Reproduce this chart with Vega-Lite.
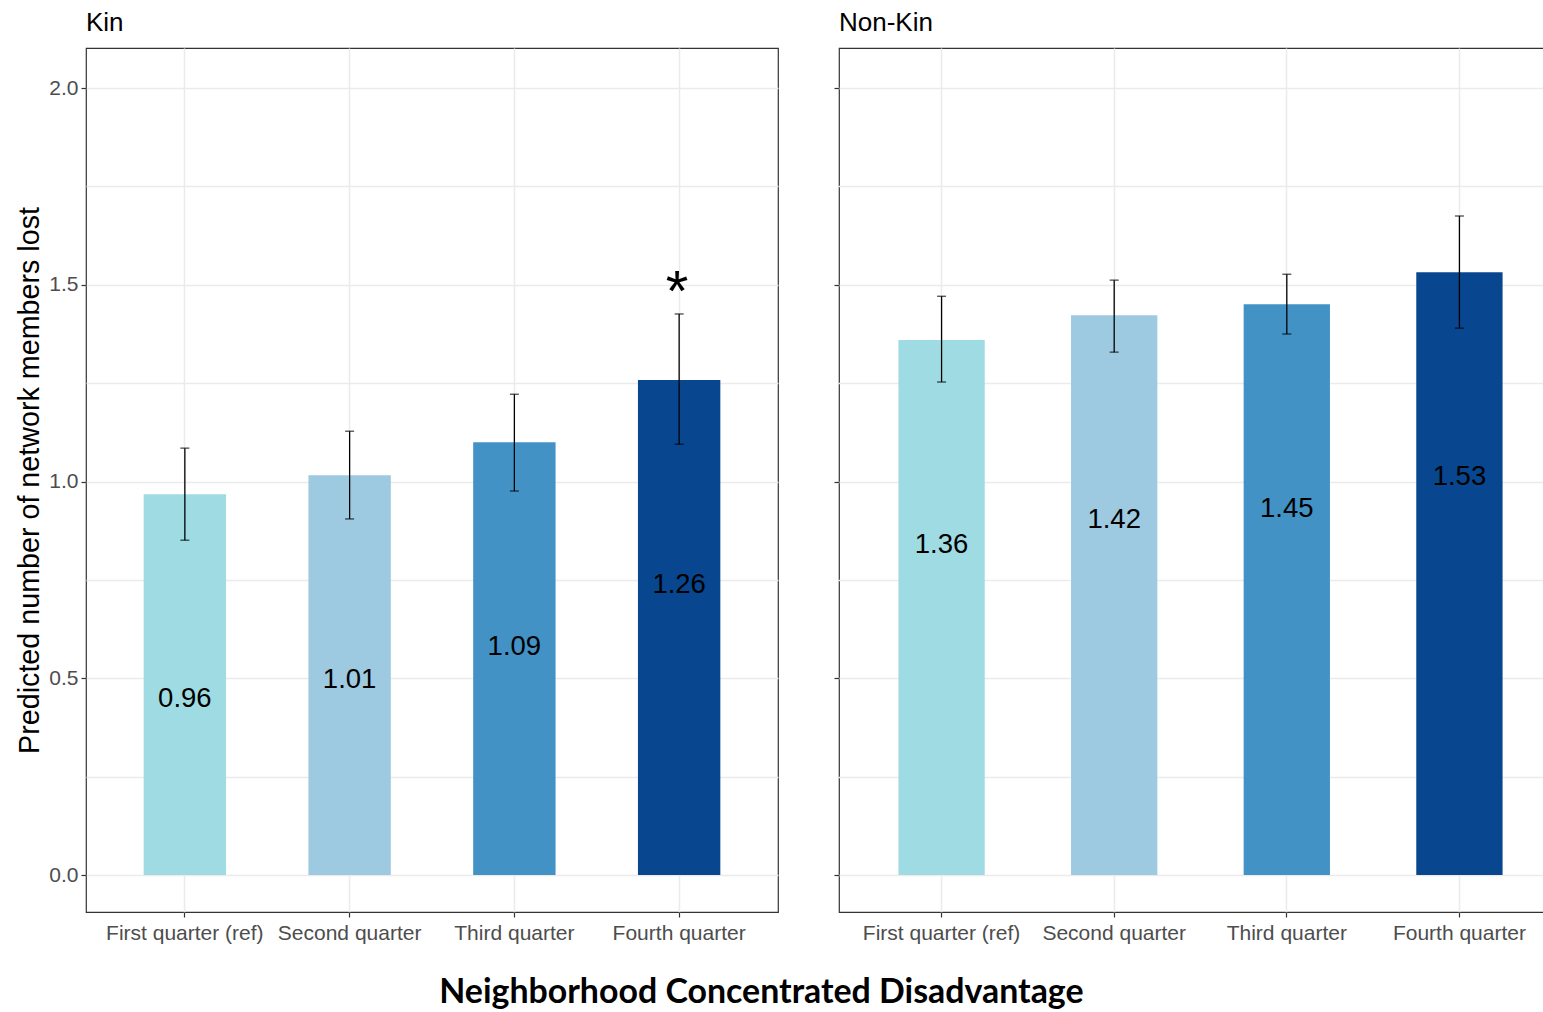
{
  "$schema": "https://vega.github.io/schema/vega-lite/v6.json",
  "background": "white",
  "padding": {"left": 15, "top": 9, "right": 0, "bottom": 5},
  "spacing": 53,
  "data": {
    "values": [
      {"group": "Kin", "quarter": "First quarter (ref)", "value": 0.968, "lower": 0.851, "upper": 1.085, "label": "0.96", "sig": ""},
      {"group": "Kin", "quarter": "Second quarter", "value": 1.016, "lower": 0.905, "upper": 1.128, "label": "1.01", "sig": ""},
      {"group": "Kin", "quarter": "Third quarter", "value": 1.100, "lower": 0.976, "upper": 1.222, "label": "1.09", "sig": ""},
      {"group": "Kin", "quarter": "Fourth quarter", "value": 1.258, "lower": 1.095, "upper": 1.426, "label": "1.26", "sig": "*"},
      {"group": "Non-Kin", "quarter": "First quarter (ref)", "value": 1.360, "lower": 1.253, "upper": 1.471, "label": "1.36", "sig": ""},
      {"group": "Non-Kin", "quarter": "Second quarter", "value": 1.423, "lower": 1.329, "upper": 1.512, "label": "1.42", "sig": ""},
      {"group": "Non-Kin", "quarter": "Third quarter", "value": 1.451, "lower": 1.375, "upper": 1.527, "label": "1.45", "sig": ""},
      {"group": "Non-Kin", "quarter": "Fourth quarter", "value": 1.532, "lower": 1.390, "upper": 1.675, "label": "1.53", "sig": ""}
    ]
  },
  "config": {
    "font": "Liberation Sans",
    "view": {"stroke": "#333333", "strokeWidth": 1.2},
    "axis": {
      "domain": false,
      "labelColor": "#4d4d4d",
      "labelFont": "Liberation Sans",
      "labelFontSize": 21,
      "tickColor": "#333333",
      "tickSize": 5,
      "tickWidth": 1.2,
      "gridColor": "#ebebeb",
      "gridWidth": 1.5,
      "titleFont": "Liberation Sans",
      "titleFontWeight": "normal",
      "titleColor": "black"
    },
    "title": {"font": "Liberation Sans", "fontWeight": "normal", "color": "black"}
  },
  "title": {
    "text": "Neighborhood Concentrated Disadvantage",
    "orient": "bottom",
    "anchor": "start",
    "font": "Lato",
    "fontWeight": "bold",
    "fontSize": 33.9,
    "color": "black",
    "offset": 32,
    "dx": 424
  },
  "hconcat": [
    {
      "width": 692,
      "height": 864,
      "title": {"text": "Kin", "anchor": "start", "frame": "group", "fontSize": 26, "offset": 12},
      "transform": [{"filter": "datum.group === 'Kin'"}],
      "encoding": {
        "x": {
          "field": "quarter",
          "type": "nominal",
          "sort": ["First quarter (ref)", "Second quarter", "Third quarter", "Fourth quarter"],
          "scale": {"paddingInner": 0.5, "paddingOuter": 0.35},
          "axis": {"title": null, "labelAngle": 0, "grid": true, "bandPosition": 0.5, "labelPadding": 5}
        }
      },
      "layer": [
        {
          "mark": {"type": "bar"},
          "encoding": {
            "y": {
              "field": "value",
              "type": "quantitative",
              "scale": {"domain": [-0.094, 2.102], "nice": false, "zero": false},
              "axis": {
                "title": "Predicted number of network members lost",
                "titleFontSize": 28.7,
                "titlePadding": 4,
                "values": [0, 0.25, 0.5, 0.75, 1, 1.25, 1.5, 1.75, 2],
                "format": ".1f",
                "labelExpr": "datum.value % 0.5 === 0 ? datum.label : ''",
                "tickOpacity": {"condition": {"test": "datum.value % 0.5 === 0", "value": 1}, "value": 0},
                "labelPadding": 3
              }
            },
            "color": {
              "field": "quarter",
              "type": "nominal",
              "sort": ["First quarter (ref)", "Second quarter", "Third quarter", "Fourth quarter"],
              "scale": {"range": ["#9fdbe2", "#9ecae1", "#4292c6", "#08468f"]},
              "legend": null
            }
          }
        },
        {
          "mark": {"type": "errorbar", "ticks": {"size": 9, "color": "black", "thickness": 1.3}, "color": "black", "thickness": 1.3},
          "encoding": {
            "y": {"field": "lower", "type": "quantitative", "title": "Predicted number of network members lost"},
            "y2": {"field": "upper"}
          }
        },
        {
          "mark": {"type": "text", "fontSize": 27.5, "color": "black", "baseline": "middle", "dy": 205},
          "encoding": {
            "y": {"field": "value", "type": "quantitative", "title": "Predicted number of network members lost"},
            "text": {"field": "label"}
          }
        },
        {
          "mark": {"type": "text", "fontSize": 58, "color": "black", "baseline": "alphabetic", "dy": -3, "dx": -2},
          "encoding": {
            "y": {"field": "upper", "type": "quantitative", "title": "Predicted number of network members lost"},
            "text": {"field": "sig"}
          }
        }
      ]
    },
    {
      "width": 708,
      "height": 864,
      "title": {"text": "Non-Kin", "anchor": "start", "frame": "group", "fontSize": 26, "offset": 12},
      "transform": [{"filter": "datum.group === 'Non-Kin'"}],
      "encoding": {
        "x": {
          "field": "quarter",
          "type": "nominal",
          "sort": ["First quarter (ref)", "Second quarter", "Third quarter", "Fourth quarter"],
          "scale": {"paddingInner": 0.5, "paddingOuter": 0.35, "range": [-1, 724]},
          "axis": {"title": null, "labelAngle": 0, "grid": true, "bandPosition": 0.5, "labelPadding": 5}
        }
      },
      "layer": [
        {
          "mark": {"type": "bar"},
          "encoding": {
            "y": {
              "field": "value",
              "type": "quantitative",
              "scale": {"domain": [-0.094, 2.102], "nice": false, "zero": false},
              "axis": {
                "title": null,
                "values": [0, 0.25, 0.5, 0.75, 1, 1.25, 1.5, 1.75, 2],
                "labels": false,
                "tickOpacity": {"condition": {"test": "datum.value % 0.5 === 0", "value": 1}, "value": 0}
              }
            },
            "color": {
              "field": "quarter",
              "type": "nominal",
              "sort": ["First quarter (ref)", "Second quarter", "Third quarter", "Fourth quarter"],
              "scale": {"range": ["#9fdbe2", "#9ecae1", "#4292c6", "#08468f"]},
              "legend": null
            }
          }
        },
        {
          "mark": {"type": "errorbar", "ticks": {"size": 9, "color": "black", "thickness": 1.3}, "color": "black", "thickness": 1.3},
          "encoding": {
            "y": {"field": "lower", "type": "quantitative", "title": null},
            "y2": {"field": "upper"}
          }
        },
        {
          "mark": {"type": "text", "fontSize": 27.5, "color": "black", "baseline": "middle", "dy": 205},
          "encoding": {
            "y": {"field": "value", "type": "quantitative", "title": null},
            "text": {"field": "label"}
          }
        }
      ]
    }
  ]
}
